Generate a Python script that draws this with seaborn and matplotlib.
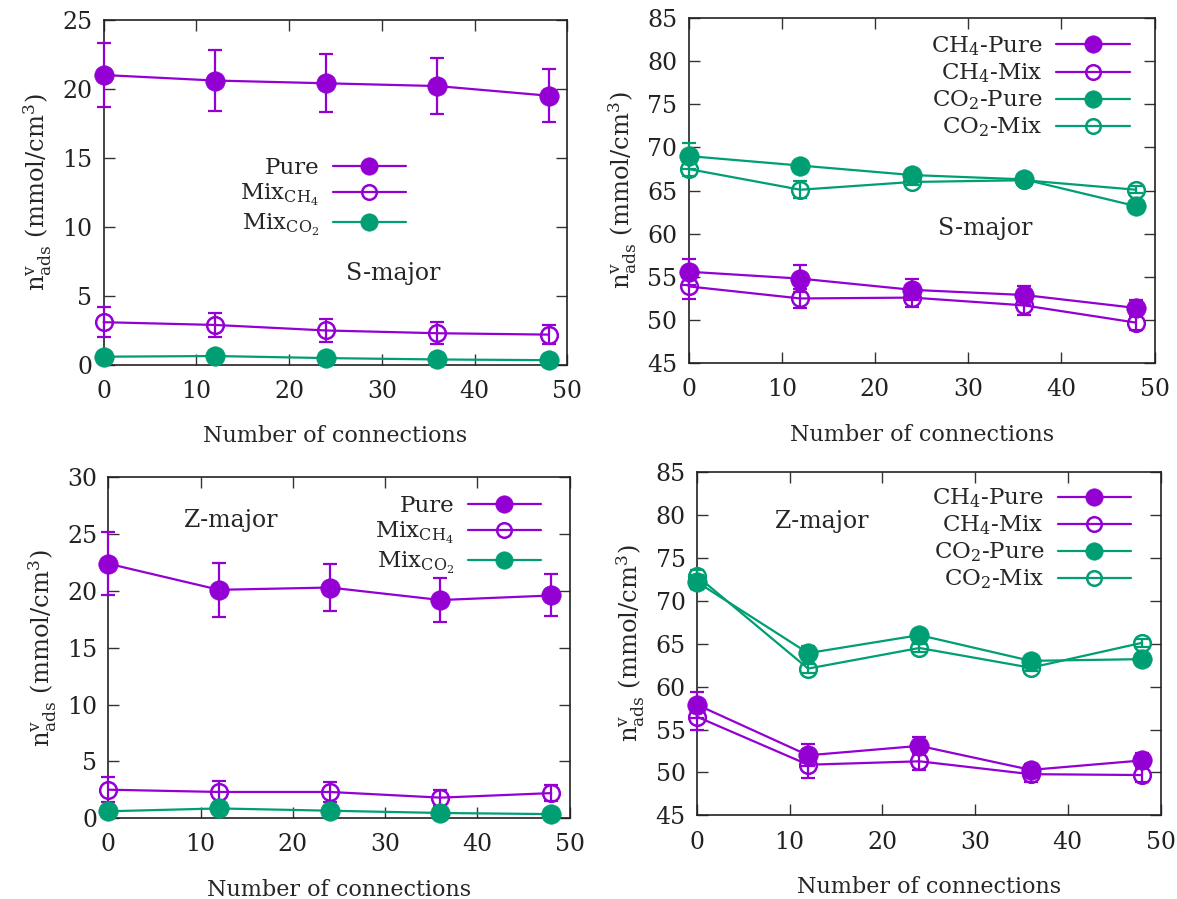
import numpy as np
import pandas as pd
import matplotlib
matplotlib.use("Agg")
import matplotlib.pyplot as plt
import seaborn as sns
from matplotlib.lines import Line2D

# ---------------- data ----------------
connections = [0, 12, 24, 36, 48]

# Panel (a) S-major, single-component vs mixture (CH4 side)
s_pure = [21.0, 20.6, 20.4, 20.2, 19.5]
s_pure_err = [2.3, 2.2, 2.1, 2.0, 1.9]
s_mix_ch4 = [3.1, 2.9, 2.5, 2.3, 2.2]
s_mix_ch4_err = [1.1, 0.9, 0.8, 0.8, 0.7]
s_mix_co2 = [0.6, 0.65, 0.5, 0.4, 0.35]
s_mix_co2_err = [0.2, 0.2, 0.15, 0.15, 0.1]

# Panel (b) S-major, CH4 / CO2
s_ch4_pure = [55.6, 54.8, 53.5, 52.9, 51.4]
s_ch4_pure_err = [1.5, 1.6, 1.2, 1.1, 0.9]
s_ch4_mix = [53.9, 52.5, 52.6, 51.7, 49.7]
s_ch4_mix_err = [1.5, 1.1, 1.1, 1.1, 0.8]
s_co2_pure = [69.0, 67.9, 66.8, 66.3, 63.2]
s_co2_pure_err = [1.5, 0.5, 0.6, 0.4, 0.5]
s_co2_mix = [67.5, 65.1, 66.0, 66.2, 65.1]
s_co2_mix_err = [0.8, 1.0, 0.3, 0.3, 0.4]

# Panel (c) Z-major
z_pure = [22.4, 20.1, 20.3, 19.2, 19.6]
z_pure_err = [2.8, 2.4, 2.1, 1.95, 1.85]
z_mix_ch4 = [2.5, 2.3, 2.3, 1.8, 2.2]
z_mix_ch4_err = [1.1, 1.0, 0.9, 0.7, 0.7]
z_mix_co2 = [0.6, 0.85, 0.65, 0.45, 0.35]
z_mix_co2_err = [0.2, 0.2, 0.15, 0.15, 0.1]

# Panel (d) Z-major, CH4 / CO2
z_ch4_pure = [57.9, 52.0, 53.1, 50.3, 51.4]
z_ch4_pure_err = [1.5, 1.3, 1.0, 0.7, 0.9]
z_ch4_mix = [56.5, 50.9, 51.3, 49.8, 49.7]
z_ch4_mix_err = [1.6, 1.5, 1.0, 0.9, 0.8]
z_co2_pure = [72.2, 63.9, 66.0, 63.0, 63.2]
z_co2_pure_err = [0.8, 0.8, 0.4, 0.5, 0.4]
z_co2_mix = [72.9, 62.1, 64.5, 62.2, 65.1]
z_co2_mix_err = [0.7, 0.5, 0.5, 0.4, 0.5]

labels_a = ["Pure", r"Mix$_{\mathrm{CH_4}}$", r"Mix$_{\mathrm{CO_2}}$"]
labels_b = [r"CH$_4$-Pure", r"CH$_4$-Mix", r"CO$_2$-Pure", r"CO$_2$-Mix"]
panel_titles = ["S-major", "S-major", "Z-major", "Z-major"]
xlabel = "Number of connections"
ylabel = r"$\mathrm{n}^{\mathrm{v}}_{\mathrm{ads}}$ (mmol/cm$^3$)"

PURPLE = "#9400D3"
GREEN = "#009E73"

# ---------------- style ----------------
sns.set_theme(style="ticks")
plt.rcParams["font.family"] = ["DejaVu Serif"]
plt.rcParams["mathtext.fontset"] = "dejavuserif"
FS_TICK = 17
FS_XL = 16
FS_YL = 17.5
FS_LEG = 16.5
FS_TXT = 17

fig = plt.figure(figsize=(11.77, 8.99), dpi=100)
pos = [
    [0.088, 0.594, 0.394, 0.384],
    [0.585, 0.596, 0.396, 0.384],
    [0.092, 0.090, 0.392, 0.379],
    [0.592, 0.093, 0.394, 0.382],
]
axes = [fig.add_axes(p) for p in pos]


def draw_series(ax, y, err, color, filled, label):
    df = pd.DataFrame({"x": connections, "y": y})
    ms = 14 if filled else 12
    mew = 0.5 if filled else 1.8
    sns.lineplot(data=df, x="x", y="y", ax=ax, color=color, lw=1.6,
                 marker="o", markersize=ms,
                 markerfacecolor=color if filled else "none",
                 markeredgecolor=color, markeredgewidth=mew,
                 clip_on=False, zorder=3, label=label, legend=False)
    ax.errorbar(connections, y, yerr=err, fmt="none", ecolor=color,
                elinewidth=1.6, capsize=5, capthick=1.6, clip_on=False, zorder=3)
    return Line2D([], [], color=color, lw=1.6, marker="o",
                  markersize=ms - 1.5,
                  markerfacecolor=color if filled else "none",
                  markeredgecolor=color, markeredgewidth=mew)


def style_axes(ax, ylim, yticks):
    ax.set_xlim(0, 50)
    ax.set_ylim(*ylim)
    ax.set_xticks([0, 10, 20, 30, 40, 50])
    ax.set_yticks(yticks)
    ax.tick_params(direction="in", length=8, width=1, top=True, right=True,
                   labelsize=FS_TICK, colors="#333333", labelcolor="#222222")
    ax.tick_params(axis="x", pad=11)
    ax.tick_params(axis="y", pad=8)
    for sp in ax.spines.values():
        sp.set_visible(True)
        sp.set_linewidth(1.2)
        sp.set_color("#222222")
    ax.set_xlabel(xlabel, fontsize=FS_XL, labelpad=16)
    ax.set_ylabel(ylabel, fontsize=FS_YL, labelpad=6)


def add_legend(ax, handles, labels, anchor):
    ax.legend(handles, labels, loc="upper right", bbox_to_anchor=anchor,
              frameon=False, markerfirst=False, fontsize=FS_LEG,
              handlelength=3.2, handletextpad=0.6, labelspacing=0.15,
              borderpad=0.1)


# Panel (a)
ax = axes[0]
h = [draw_series(ax, s_pure, s_pure_err, PURPLE, True, labels_a[0]),
     draw_series(ax, s_mix_ch4, s_mix_ch4_err, PURPLE, False, labels_a[1]),
     draw_series(ax, s_mix_co2, s_mix_co2_err, GREEN, True, labels_a[2])]
style_axes(ax, (0, 25), [0, 5, 10, 15, 20, 25])
add_legend(ax, h, labels_a, (0.682, 0.643))
ax.text(31.2, 6.6, panel_titles[0], fontsize=FS_TXT, ha="center", va="center")

# Panel (b)
ax = axes[1]
h = [draw_series(ax, s_ch4_pure, s_ch4_pure_err, PURPLE, True, labels_b[0]),
     draw_series(ax, s_ch4_mix, s_ch4_mix_err, PURPLE, False, labels_b[1]),
     draw_series(ax, s_co2_pure, s_co2_pure_err, GREEN, True, labels_b[2]),
     draw_series(ax, s_co2_mix, s_co2_mix_err, GREEN, False, labels_b[3])]
style_axes(ax, (45, 85), [45, 50, 55, 60, 65, 70, 75, 80, 85])
add_legend(ax, h, labels_b, (0.976, 0.992))
ax.text(31.8, 60.6, panel_titles[1], fontsize=FS_TXT, ha="center", va="center")

# Panel (c)
ax = axes[2]
h = [draw_series(ax, z_pure, z_pure_err, PURPLE, True, labels_a[0]),
     draw_series(ax, z_mix_ch4, z_mix_ch4_err, PURPLE, False, labels_a[1]),
     draw_series(ax, z_mix_co2, z_mix_co2_err, GREEN, True, labels_a[2])]
style_axes(ax, (0, 30), [0, 5, 10, 15, 20, 25, 30])
add_legend(ax, h, labels_a, (0.968, 0.99))
ax.text(13.3, 26.2, panel_titles[2], fontsize=FS_TXT, ha="center", va="center")

# Panel (d)
ax = axes[3]
h = [draw_series(ax, z_ch4_pure, z_ch4_pure_err, PURPLE, True, labels_b[0]),
     draw_series(ax, z_ch4_mix, z_ch4_mix_err, PURPLE, False, labels_b[1]),
     draw_series(ax, z_co2_pure, z_co2_pure_err, GREEN, True, labels_b[2]),
     draw_series(ax, z_co2_mix, z_co2_mix_err, GREEN, False, labels_b[3])]
style_axes(ax, (45, 85), [45, 50, 55, 60, 65, 70, 75, 80, 85])
add_legend(ax, h, labels_b, (0.966, 0.997))
ax.text(13.5, 79.2, panel_titles[3], fontsize=FS_TXT, ha="center", va="center")

fig.savefig("out.png", dpi=100)
